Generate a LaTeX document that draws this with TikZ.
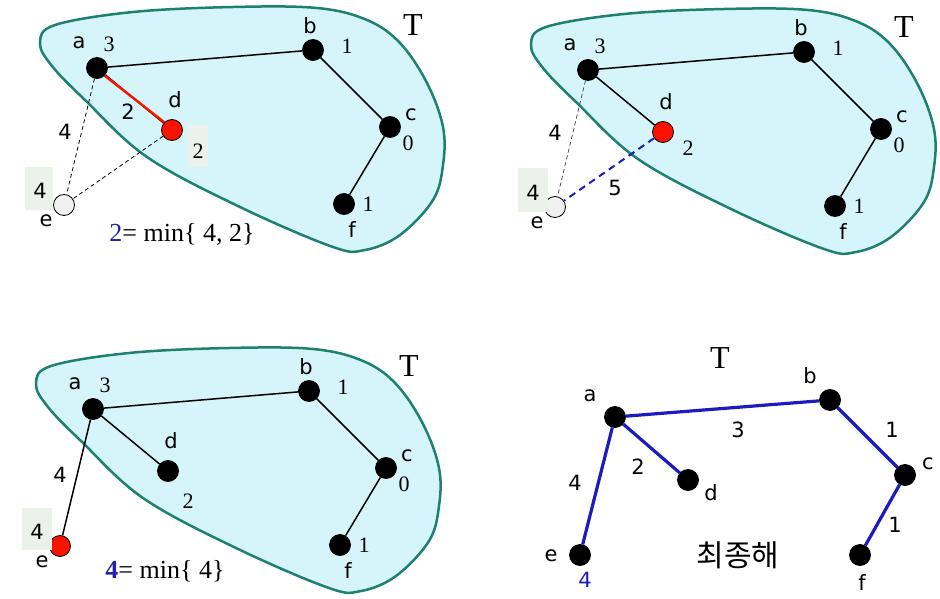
\documentclass[tikz,border=0pt]{standalone}
\usepackage{fontspec}
\setmainfont{Liberation Serif}
\setsansfont{DejaVu Sans}
\newfontfamily\korfont{Noto Sans CJK KR}
\definecolor{blobfill}{RGB}{214,245,250}
\definecolor{blobline}{RGB}{30,128,110}
\definecolor{lblbg}{RGB}{234,242,234}
\definecolor{eblue}{RGB}{28,28,190}
\definecolor{fblue}{RGB}{35,35,170}
\definecolor{vred}{RGB}{250,20,0}
\tikzset{
  blob/.style={fill=blobfill, draw=blobline, line width=2.5pt},
  vtx/.style={circle, fill=black, draw=black, inner sep=0pt, minimum size=21pt, line width=0.8pt},
  redv/.style={vtx, fill=vred},
  whitev/.style={vtx, fill=black!6},
  edg/.style={line width=1.5pt},
  thindash/.style={line width=0.8pt, dash pattern=on 4pt off 3pt},
  bluedash/.style={line width=2pt, draw=eblue, dash pattern=on 7pt off 5pt},
  redge/.style={line width=2.4pt, draw=vred},
  bedge/.style={line width=3.2pt, draw=eblue},
  sl/.style={font=\sffamily\fontsize{21}{21}\selectfont, inner sep=0pt},
  vl/.style={font=\fontsize{22}{22}\selectfont, inner sep=0pt},
  tl/.style={font=\fontsize{32}{32}\selectfont, inner sep=0pt},
  fl/.style={font=\fontsize{26}{26}\selectfont, inner sep=0pt},
  bgbox/.style={fill=lblbg, draw=none},
}
\newcommand\blobshape{%
  \draw[blob] plot[smooth cycle, tension=0.6] coordinates {
    (40,43) (55,25) (133,12) (233,7) (317,8) (367,20) (400,43) (427,83)
    (443,127) (443,165) (433,200) (400,235) (365,250) (333,247) (240,207)
    (147,157) (85,100) (52,66)};}
\newcommand\commonpart[1]{%
  \blobshape
  \node[tl] (T#1) at (413,25) {T};
  \node[vtx] (a#1) at (97,68) {};
  \node[vtx] (b#1) at (313,50) {};
  \node[vtx] (c#1) at (390,127) {};
  \node[vtx] (f#1) at (344,204) {};
  \draw[edg] (a#1) -- (b#1);
  \draw[edg] (b#1) -- (c#1);
  \draw[edg] (c#1) -- (f#1);
  \node[sl] (la#1) at (79,43) {a};
  \node[vl] (va#1) at (109,44) {3};
  \node[sl] (lb#1) at (310,26) {b};
  \node[vl] (vb#1) at (347,46) {1};
  \node[sl] (lc#1) at (411,115) {c};
  \node[vl] (vc#1) at (408,143) {0};
  \node[sl] (ld#1) at (175,100) {d};
  \node[vl] (vf#1) at (368,204) {1};
  \node[sl] (lf#1) at (352,230) {f};
  \node[sl] (le#1) at (46,221) {e};
}
\begin{document}
\begin{tikzpicture}[x=1pt,y=-1pt]
\useasboundingbox (0,0) rectangle (940,599);
\fill[white] (0,0) rectangle (940,599);

% ---------- panel 1 ----------
\begin{scope}
  \commonpart{1}
  \node[redv] (d1) at (172,130) {};
  \node[whitev] (e1) at (64,205) {};
  \draw[edg] (a1) -- (d1);
  \draw[redge] (a1.south east) -- (d1.north west);
  \draw[thindash] (a1) -- (e1);
  \draw[thindash] (d1) -- (e1);
  \node[sl] (w11) at (128,112) {2};
  \node[sl] (w12) at (65,132) {4};
  \fill[bgbox] (188,125) rectangle (208,167);
  \node[vl] (vd1) at (198,151) {2};
  \fill[bgbox] (25,167) rectangle (53,210);
  \node[sl] (ve1) at (40,191) {4};
  \node[fl] (form1) at (182,234) {{\color{fblue}2}= min\{ 4, 2\}};
\end{scope}

% ---------- panel 2 ----------
\begin{scope}[shift={(491,2)}]
  \commonpart{2}
  \node[redv] (d2) at (172,130) {};
  \node[whitev] (e2) at (64,205) {};
  \draw[edg] (a2) -- (d2);
  \draw[thindash, draw=black!70] (a2) -- (e2);
  \draw[bluedash] (d2) -- (e2);
  \node[sl] (w21) at (64,131) {4};
  \node[sl] (w22) at (124,186) {5};
  \node[vl] (vd2) at (197,146) {2};
  \fill[bgbox] (27,166) rectangle (57,210);
  \node[sl] (ve2) at (42,191) {4};
\end{scope}

% ---------- panel 3 ----------
\begin{scope}[shift={(-4,341)}]
  \commonpart{3}
  \node[vtx] (d3) at (172,130) {};
  \node[redv] (e3) at (64,205) {};
  \draw[edg] (a3) -- (d3);
  \draw[edg] (a3) -- (e3);
  \node[sl] (w31) at (64,134) {4};
  \node[vl] (vd3) at (192,160) {2};
  \fill[bgbox] (26,167) rectangle (56,209);
  \node[sl] (ve3) at (41,191) {4};
  \node[fl] (form3) at (169,230) {{\color{fblue}\textbf{4}}= min\{ 4\}};
\end{scope}

% ---------- panel 4 ----------
\node[tl] (T4) at (720,358) {T};
\node[vtx] (a4) at (615,417) {};
\node[vtx] (b4) at (830,400) {};
\node[vtx] (c4) at (905,475) {};
\node[vtx] (d4) at (688,480) {};
\node[vtx] (e4) at (580,555) {};
\node[vtx] (f4) at (860,555) {};
\draw[bedge] (a4) -- (b4);
\draw[bedge] (b4) -- (c4);
\draw[bedge] (c4) -- (f4);
\draw[bedge] (a4) -- (d4);
\draw[bedge] (a4) -- (e4);
\node[sl] (la4) at (590,396) {a};
\node[sl] (lb4) at (810,376) {b};
\node[sl] (lc4) at (928,464) {c};
\node[sl] (ld4) at (711,493) {d};
\node[sl] (le4) at (551,556) {e};
\node[sl, text=eblue] (ve4) at (585,580) {4};
\node[sl] (lf4) at (862,583) {f};
\node[sl] (w41) at (738,430) {3};
\node[sl] (w42) at (892,430) {1};
\node[sl] (w43) at (638,467) {2};
\node[sl] (w44) at (575,483) {4};
\node[sl] (w45) at (895,525) {1};
\node[font=\korfont\fontsize{30}{30}\selectfont, inner sep=0pt] (fin) at (738,555) {최종해};
\end{tikzpicture}
\end{document}
